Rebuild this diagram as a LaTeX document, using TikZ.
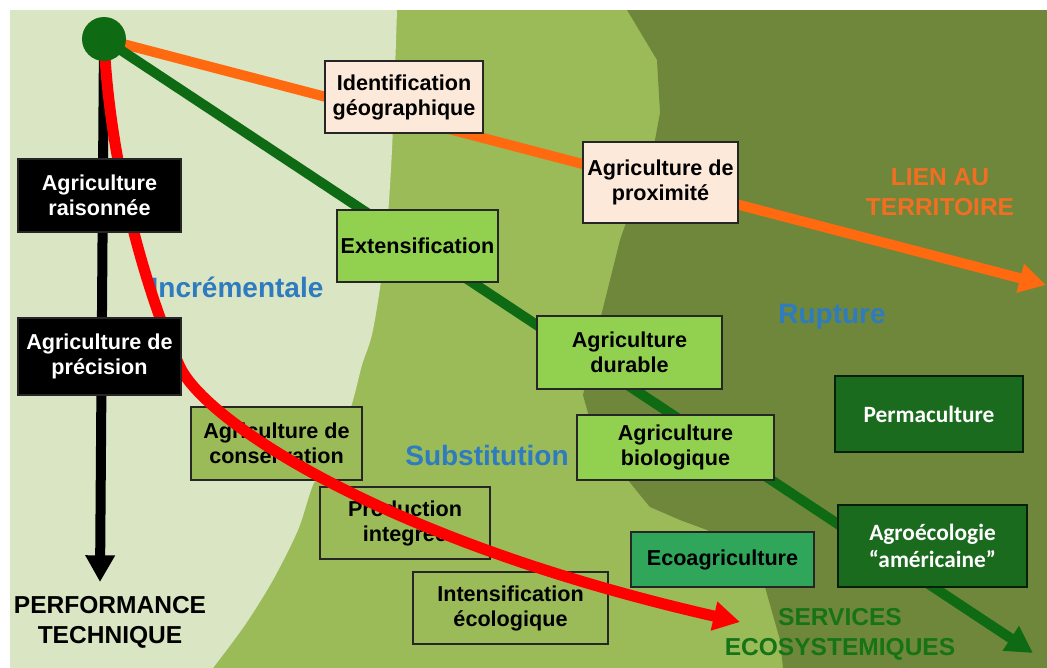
\documentclass[tikz,border=0pt]{standalone}
\usepackage{fontspec}
\setmainfont{Liberation Sans}
\newfontfamily\calib{Carlito}
\usetikzlibrary{arrows.meta}
\pgfdeclarelayer{bg}
\pgfdeclarelayer{lines}
\pgfdeclarelayer{redl}
\pgfdeclarelayer{top}
\pgfsetlayers{bg,lines,main,redl,top}
\definecolor{pale}{HTML}{DAE5C3}
\definecolor{mid}{HTML}{9BBB59}
\definecolor{dark}{HTML}{6F873B}
\definecolor{peach}{HTML}{FDE9D9}
\definecolor{lgreen}{HTML}{92D050}
\definecolor{dgreen}{HTML}{0E6B14}
\definecolor{orangeL}{HTML}{FF6A10}
\definecolor{orangeT}{HTML}{F26E22}
\definecolor{blueL}{HTML}{2E7BC0}
\definecolor{permg}{HTML}{1B6B1F}
\definecolor{ecog}{HTML}{2FA65A}
\definecolor{svc}{HTML}{167416}
\begin{document}
\begin{tikzpicture}[x=0.75pt,y=-0.75pt,
  box/.style={draw=black!85, line width=1.1pt, inner sep=0pt, align=center,
    font=\fontsize{16.2}{18.8}\selectfont\bfseries},
  sz/.style 2 args={minimum width=#1*0.75pt, minimum height=#2*0.75pt},
  blk/.style={box, fill=black, text=white},
  pch/.style={box, fill=peach},
  lgr/.style={box, fill=lgreen},
  mgr/.style={box, fill=mid},
  ecb/.style={box, fill=ecog},
  dgr/.style={box, fill=permg, draw=black!70!permg, text=white,
    font=\calib\fontsize{17.5}{20.5}\selectfont\bfseries},
  lbl/.style={font=\fontsize{21}{24}\selectfont\bfseries, text=blueL},
  caplbl/.style={font=\fontsize{18.4}{22.5}\selectfont\bfseries, align=center},
  conn/.style={line width=7.5pt},
  tipa/.style={-{Triangle[width=21pt,length=20pt]}}
]
\useasboundingbox (0,0) rectangle (1047,668);
\begin{pgfonlayer}{bg}
\fill[white] (0,0) rectangle (1047,668);
\fill[mid] (10,10) rectangle (1047,668);
\fill[pale] (10,668) -- (10,10) -- plot[smooth] coordinates {(397,10) (392,150) (385,250) (373,330) (362,365) (350,410) (330,455) (313,485) (298,530) (273,580) (245,625) (213,668)} -- cycle;
\fill[dark] (627,10) -- (1047,10) -- (1047,668) -- (783,668) -- (780,640) -- (763,580) -- (740,552) -- (707,530) -- (680,520) -- (650,507) -- (640,495) -- (628,480) -- (590,420) -- (583,395) -- (600,320) -- (620,240) -- (655,140) -- (660,113) -- (657,60) -- cycle;
\end{pgfonlayer}

% end points
\coordinate (otip) at (1046,285);
\coordinate (gtip) at (1033,653);
\coordinate (btip) at (100,582);
\coordinate (rmid) at (180,367);
\coordinate (rtip) at (740,622);

\begin{pgfonlayer}{top}
\node[circle, fill=dgreen, minimum size=44*0.75pt, inner sep=0pt] (c) at (104,39) {};
\node[blk, sz={163}{73}] (rais) at (99.5,195.5) {Agriculture\\raisonnée};
\node[blk, sz={163}{77}] (prec) at (99.5,356.5) {Agriculture de\\précision};
\end{pgfonlayer}

\node[pch, sz={158}{72}] (idg) at (404,97) {Identification\\géographique};
\node[pch, sz={155}{81}] (prox) at (660.5,182.5) {Agriculture de\\proximité};
\node[lgr, sz={161}{72}] (ext) at (417.5,246) {Extensification};
\node[lgr, sz={185}{73}] (dur) at (629.5,352.5) {Agriculture\\durable};
\node[lgr, sz={197}{65}] (bio) at (675.5,447.5) {Agriculture\\biologique};
\node[ecb, sz={183}{55}] (eco) at (722.5,559.5) {Ecoagriculture};
\node[dgr, sz={188}{76}] (perm) at (929,414) {Permaculture};
\node[dgr, sz={189}{82}] (agro) at (932.5,546) {Agroécologie\\“américaine”};
\node[mgr, sz={171}{73}] (cons) at (276.5,443.5) {Agriculture de\\conservation};
\node[mgr, sz={170}{72}] (prod) at (405,523) {Production\\integrée};
\node[mgr, sz={195}{72}] (intf) at (510.5,608) {Intensification\\écologique};

\node[lbl] (inc) at (237,287) {Incrémentale};
\node[lbl] (sub) at (487,455) {Substitution};
\node[lbl] (rup) at (832,317) {Rupture};
\node[caplbl, text=orangeT] (lien) at (940,192) {LIEN AU\\TERRITOIRE};
\node[caplbl] (perf) at (110,622) {PERFORMANCE\\TECHNIQUE};
\node[caplbl, text=svc] (serv) at (840,634) {SERVICES\\ECOSYSTEMIQUES};

\begin{pgfonlayer}{lines}
\draw[conn, orangeL, tipa] (c.center) -- (otip);
\draw[conn, dgreen, tipa] (c.center) -- (gtip);
\draw[conn, black, tipa] (c.center) -- (btip);
\end{pgfonlayer}
\begin{pgfonlayer}{redl}
\draw[conn, line width=8.3pt, red, tipa] (c.center) .. controls (110,180) and (155,314) .. (rmid)
  .. controls (205,420) and (380,540) .. (rtip);
\end{pgfonlayer}
\end{tikzpicture}
\end{document}
